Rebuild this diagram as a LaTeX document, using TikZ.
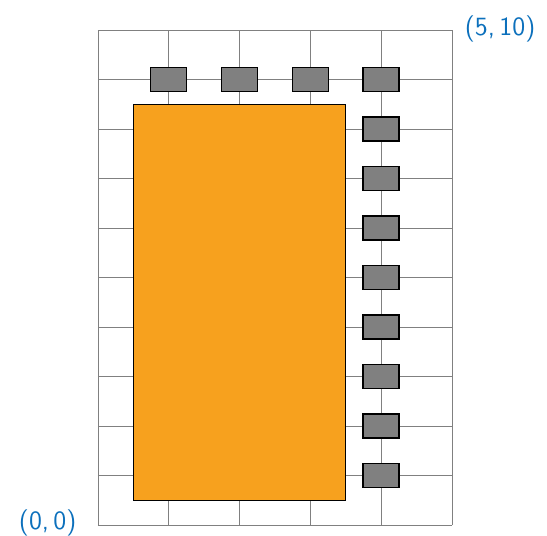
\documentclass[tikz,border=0pt]{standalone}
\usepackage{tikz}
\usetikzlibrary{positioning}
\definecolor{cornerblue}{RGB}{12,112,188}
\definecolor{chiporange}{RGB}{247,161,30}

\begin{document}
\begin{tikzpicture}[
    x=1.416cm, y=0.99cm,
    gridline/.style={draw=black!50, line width=0.5pt, xstep=1.416cm, ystep=0.99cm},
    pad/.style={rectangle, draw=black, fill=black!50, line width=0.8pt, minimum width=0.72cm, minimum height=0.48cm, inner sep=0pt},
    core/.style={rectangle, draw=black, fill=chiporange, line width=0.6pt, minimum width=4.248cm, minimum height=7.92cm, inner sep=0pt},
    corner/.style={text=cornerblue, font=\sffamily\fontsize{15}{18}\selectfont, inner sep=0pt}
  ]

    \useasboundingbox (-1.384,-0.222) rectangle (6.342,10.606);

    % Grid
    \draw[gridline] (0,0) grid (5,10);

    % Corner labels
    \node[corner] (origin) at (-0.71,0.05) {(0,\,0)};
    \node[corner] (far) at (5.68,10.03) {(5,\,10)};

    % Die
    \node[core] (die) at (2,4.5) {};

    % Pads, top row
    \node[pad] (t1) at (1,9) {};
    \node[pad] (t2) at (2,9) {};
    \node[pad] (t3) at (3,9) {};
    \node[pad] (t4) at (4,9) {};

    % Pads, right column
    \node[pad] (r8) at (4,8) {};
    \node[pad] (r7) at (4,7) {};
    \node[pad] (r6) at (4,6) {};
    \node[pad] (r5) at (4,5) {};
    \node[pad] (r4) at (4,4) {};
    \node[pad] (r3) at (4,3) {};
    \node[pad] (r2) at (4,2) {};
    \node[pad] (r1) at (4,1) {};

  \end{tikzpicture}
\end{document}
